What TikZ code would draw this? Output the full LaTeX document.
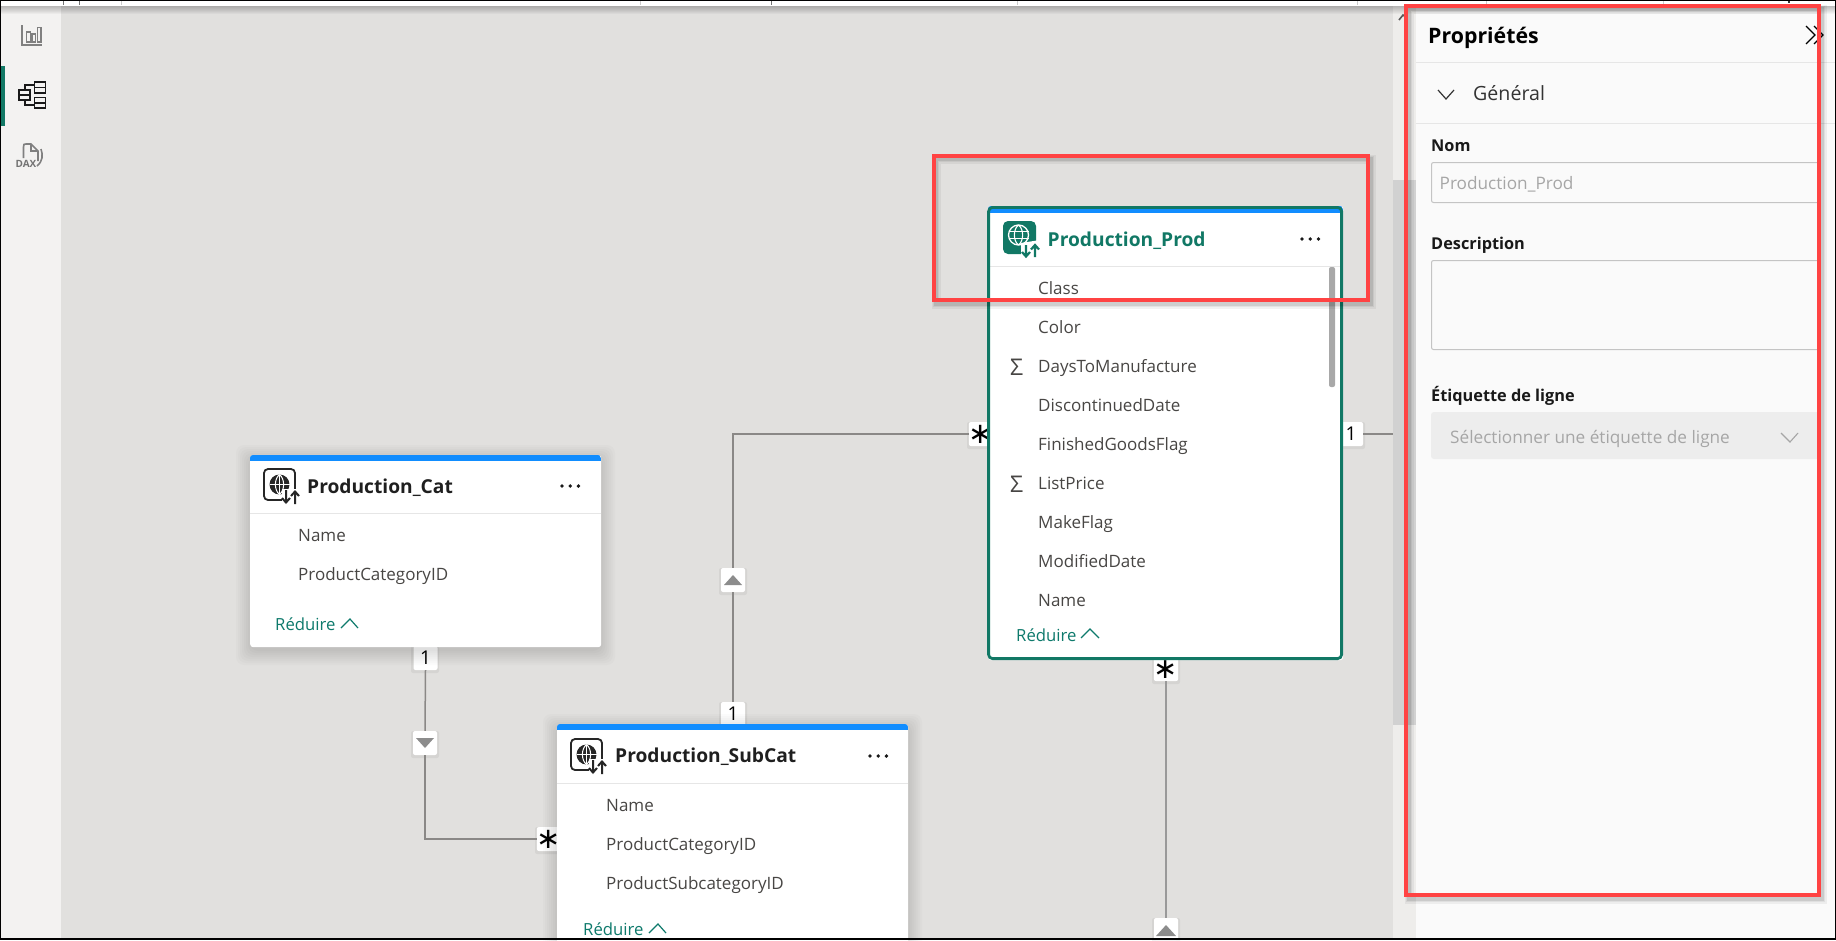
\documentclass[tikz,border=0pt]{standalone}
\usepackage{fontspec}
\setmainfont{Open Sans}
\newfontfamily\djv{DejaVu Sans}
\usetikzlibrary{calc}
\definecolor{canvasbg}{HTML}{E1E0DE}
\definecolor{railbg}{HTML}{F3F2F1}
\definecolor{panelbg}{HTML}{FAFAFA}
\definecolor{teal}{HTML}{117865}
\definecolor{pbiblue}{HTML}{118DFF}
\definecolor{redmark}{HTML}{FF4343}
\definecolor{rowtxt}{HTML}{484644}
\definecolor{linkc}{HTML}{0E7A6C}
\definecolor{conn}{HTML}{8A8886}
\definecolor{sepc}{HTML}{E6E6E6}
\definecolor{fieldc}{HTML}{C4C4C4}
\definecolor{hintc}{HTML}{A6A6A6}
\tikzset{
  x=1pt,y=-1pt,
  tablebox/.style={fill=white,rounded corners=3pt,inner sep=0,anchor=north west},
  rowlabel/.style={anchor=base west,inner sep=0,text=rowtxt,font=\fontsize{17}{20}\selectfont},
  sigmalabel/.style={anchor=base west,inner sep=0,text=rowtxt,font=\fontsize{23}{23}\selectfont},
  titlelabel/.style={anchor=base west,inner sep=0,text=#1,font=\bfseries\fontsize{19.2}{22}\selectfont},
  morelabel/.style={anchor=base west,inner sep=0,text=linkc,font=\fontsize{16.7}{20}\selectfont},
  badge/.style={fill=white,rounded corners=2pt,inner sep=0,minimum width=24pt,minimum height=24pt,text=black},
  onebadge/.style={badge,font=\fontsize{19}{19}\selectfont},
  starbadge/.style={badge,font=\djv\fontsize{29}{29}\selectfont},
  link/.style={draw=conn,line width=1.5pt},
  proplabel/.style={anchor=base west,inner sep=0,text=black!90,font=\bfseries\fontsize{16.3}{20}\selectfont},
  hinttext/.style={anchor=base west,inner sep=0,text=hintc,font=\fontsize{17.2}{20}\selectfont},
  chev/.style={draw=#1,line width=1.2pt,line join=miter},
  fieldbox/.style={draw=fieldc,line width=1pt,rounded corners=2pt},
  redframe/.style={draw=redmark,line width=3.6pt,line join=miter},
  tableshadow/.style={fill=black,opacity=.014,rounded corners=8pt},
  railicon/.style={draw=black!50,line width=1.6pt},
}
\newcommand{\softshadow}[4]{%
  \foreach \d in {14,12,10,8,6,4,2,0}{\fill[tableshadow] (#1-\d,#2-\d+4) rectangle (#3+\d,#4+\d+4);}}
\newcommand{\monoicon}[2]{%
  \begin{scope}[shift={(#1,#2)}]
    \draw[black!85,line width=1.8pt,rounded corners=4pt] (1,1) rectangle (32,32);
    \fill[black!85] (16.5,16.5) circle (10);
    \draw[white,line width=1pt] (6.5,16.5)--(26.5,16.5);
    \draw[white,line width=1pt] (16.5,6.5)--(16.5,26.5);
    \draw[white,line width=1pt] (16.5,6.5) .. controls (11,11) and (11,22) .. (16.5,26.5);
    \draw[white,line width=1pt] (16.5,6.5) .. controls (22,11) and (22,22) .. (16.5,26.5);
    \fill[white] (19,21) rectangle (37,37);
    \draw[black!85,line width=2pt] (23,22)--(23,34) (19,30)--(23,34.5)--(27,30);
    \draw[black!85,line width=2pt] (32,36)--(32,24) (28,28)--(32,23.5)--(36,28);
  \end{scope}}
\newcommand{\tealicon}[2]{%
  \begin{scope}[shift={(#1,#2)}]
    \fill[teal,rounded corners=5pt] (0,0) rectangle (33,33);
    \draw[white,line width=1.3pt] (15.5,14) circle (10);
    \draw[white,line width=1.1pt] (5.5,10.5)--(25.5,10.5) (5.5,17.5)--(25.5,17.5);
    \draw[white,line width=1.1pt] (15.5,4) .. controls (10,8) and (10,20) .. (15.5,24);
    \draw[white,line width=1.1pt] (15.5,4) .. controls (21,8) and (21,20) .. (15.5,24);
    \fill[white] (18,22) -- (37,19) -- (37,37) -- (18,37) -- cycle;
    \draw[teal,line width=2.2pt] (23,24)--(23,35) (19,31)--(23,35.5)--(27,31);
    \draw[teal,line width=2.2pt] (32,36)--(32,24.5) (28,28.5)--(32,24)--(36,28.5);
  \end{scope}}
\newcommand{\threedots}[2]{%
  \foreach \i in {0,1,2}{\fill[black!90] (#1+\i*8.2,#2) circle (1.9);}}
\begin{document}
\begin{tikzpicture}
\useasboundingbox (0,0) rectangle (1836,940);
\fill[white] (0,0) rectangle (1836,940);
% canvas, rail, panel
\fill[canvasbg] (61,6) rectangle (1393,940);
\fill[railbg] (0,6) rectangle (61,940);
\fill[railbg!70!canvasbg] (1393,6) rectangle (1416,940);
\fill[panelbg] (1416,6) rectangle (1836,940);
\fill[black!18] (1393,180) rectangle (1416,725);
% strip ticks and its shadow
\foreach \xx in {63,79,771}{\draw[black!55,line width=.9pt] (\xx,1)--(\xx,5);}
\foreach \xx in {121,640,1017,1357,1486,1663}{\draw[black!20,line width=.8pt] (\xx,1)--(\xx,5);}
\draw[black!80,line width=1.2pt] (1789,1)--(1789,3);
\foreach \k in {1,...,8}{\fill[black,opacity=.032] (1,6) rectangle (1835,6+\k);}
% rail
\fill[teal] (1,66) rectangle (5,126);
\begin{scope}[railicon]
  \draw (22,25)--(22,45)--(42,45);
  \draw (26.5,32) rectangle (30.5,42);
  \draw (32,34) rectangle (35.5,42);
  \draw (37.5,27.5) rectangle (41,42);
\end{scope}
\begin{scope}[draw=black!90,line width=1.5pt]
  \draw (19,90) rectangle (30,100) (19,95)--(30,95);
  \draw (34.5,82) rectangle (45.5,93) (34.5,87.5)--(45.5,87.5);
  \draw (34.5,97.5) rectangle (45.5,108) (34.5,103)--(45.5,103);
  \draw (25,90)--(25,85)--(34.5,85);
  \draw (25,100)--(25,105)--(34.5,105);
\end{scope}
\begin{scope}[railicon]
  \draw (23.5,158)--(23.5,147) .. controls (23.5,144) and (24,144) .. (26,144)--(31,144)--(38,151)--(38,161);
  \draw (31,144)--(31,151)--(38,151);
  \draw (41,149) .. controls (43,155) and (43,161) .. (37,166);
\end{scope}
\node[inner sep=0,text=black!55,font=\bfseries\fontsize{10}{10}\selectfont] (daxlabel) at (26,163.5) {DAX};
% scroll caret
\draw[black!65,line width=1.6pt] (1399,20)--(1403,15)--(1407,18);
% label badges
\foreach \bx/\by in {425/658,733/714,549/839,981/434,1351/434,1166/669,425/743,733/580,1166/930}{
  \fill[black,opacity=.05,rounded corners=2pt] (\bx-14,\by-12) rectangle (\bx+14,\by+15);}
\node[onebadge] (catone) at (425.5,658) {1};
\node[starbadge] (substar) at (549,839) {∗};
\node[onebadge] (subone) at (733,714) {1};
\node[starbadge] (prodstarl) at (981,434) {∗};
\node[onebadge] (prodone) at (1351,434) {1};
\node[starbadge] (prodstarb) at (1166,669) {∗};
\node[badge] (catarrow) at (425,743) {};
\node[badge] (subarrow) at (733,580) {};
\node[badge,minimum height=22pt] (prodarrow) at (1166,929) {};
\coordinate (edgeright) at (1393,434);
% connectors
\draw[link] (catone.south) -- (catarrow.north);
\draw[link] (catarrow.south) |- (substar.west);
\draw[link] (subone.north) -- (subarrow.south);
\draw[link] (subarrow.north) |- (prodstarl.west);
\draw[link] (prodone.east) -- (edgeright);
\draw[link,draw=black!40] (prodstarb.south) -- (prodarrow.north);
% arrow glyphs
\fill[black!45] ($(catarrow.center)+(-9,-5)$) -- ++(18,0) -- ++(-9,10) -- cycle;
\fill[black!45] ($(subarrow.center)+(-9,5)$) -- ++(18,0) -- ++(-9,-10) -- cycle;
\fill[black!45] ($(prodarrow.center)+(-10,7)$) -- ++(20,0) -- ++(-10,-11) -- cycle;
% Production_Cat
\softshadow{250}{455}{601}{647}
\node[tablebox,minimum width=351pt,minimum height=192pt] (cat) at (250,455) {};
\begin{scope}
  \clip[rounded corners=3pt] (250,455) rectangle (601,647);
  \fill[pbiblue] (250,455) rectangle (601,461);
\end{scope}
\draw[sepc,line width=1pt] (250,513)--(601,513);
\monoicon{263}{468}
\node[titlelabel=black!88] (cattitle) at (307,493.5) {Production\_Cat};
\threedots{562}{486}
\node[rowlabel] (catname) at (298,541.7) {Name};
\node[rowlabel] (catid) at (298,580.7) {ProductCategoryID};
\node[morelabel] (catmore) at (275,630) {Réduire};
\draw[chev=linkc] (341,628)--(350,619)--(358,628);
% Production_SubCat
\softshadow{557}{724}{908}{950}
\node[tablebox,minimum width=351pt,minimum height=230pt] (subcat) at (557,724) {};
\begin{scope}
  \clip[rounded corners=3pt] (557,724) rectangle (908,954);
  \fill[pbiblue] (557,724) rectangle (908,730);
\end{scope}
\draw[sepc,line width=1pt] (557,783)--(908,783);
\monoicon{570}{738}
\node[titlelabel=black!88] (subtitle) at (615,762.5) {Production\_SubCat};
\threedots{870}{756}
\node[rowlabel] (subname) at (606,811.7) {Name};
\node[rowlabel] (subcid) at (606,850.7) {ProductCategoryID};
\node[rowlabel] (subsid) at (606,889.7) {ProductSubcategoryID};
\node[morelabel] (submore) at (583,935) {Réduire};
\draw[chev=linkc] (649,933)--(658,924)--(666,933);
% Production_Prod
\node[tablebox,minimum width=355pt,minimum height=454pt] (prod) at (988,206) {};
\begin{scope}
  \clip[rounded corners=3pt] (988,206) rectangle (1343,660);
  \fill[pbiblue] (988,206) rectangle (1343,213);
\end{scope}
\draw[sepc,line width=1pt] (990,266)--(1341,266);
\draw[teal,line width=2.8pt,rounded corners=4pt] (988.6,207.4) rectangle (1341.6,658.6);
\tealicon{1003}{221}
\node[titlelabel=teal] (prodtitle) at (1047.5,246.5) {Production\_Prod};
\threedots{1302}{239}
\node[rowlabel] (p1) at (1038,294.7) {Class};
\node[rowlabel] (p2) at (1038,333.7) {Color};
\node[sigmalabel] (ps1) at (1010,375.7) {Σ};
\node[rowlabel] (p3) at (1038,372.7) {DaysToManufacture};
\node[rowlabel] (p4) at (1038,411.7) {DiscontinuedDate};
\node[rowlabel] (p5) at (1038,450.7) {FinishedGoodsFlag};
\node[sigmalabel] (ps2) at (1010,492.7) {Σ};
\node[rowlabel] (p6) at (1038,489.7) {ListPrice};
\node[rowlabel] (p7) at (1038,528.7) {MakeFlag};
\node[rowlabel] (p8) at (1038,567.7) {ModifiedDate};
\node[rowlabel] (p9) at (1038,606.7) {Name};
\node[morelabel] (prodmore) at (1016,641) {Réduire};
\draw[chev=linkc] (1081,638)--(1090,629)--(1099,638);
\fill[black!34,rounded corners=2pt] (1329,267) rectangle (1335,387);
% properties panel
\node[anchor=base west,inner sep=0,text=black,font=\bfseries\fontsize{21.3}{25}\selectfont] (ptitle) at (1428,43) {Propriétés};
\draw[black,line width=1.3pt] (1806,26)--(1815,35)--(1806,44);
\draw[black,line width=1.3pt] (1814,26)--(1823,35)--(1814,44);
\draw[sepc,line width=1pt] (1416,62)--(1836,62);
\draw[black!80,line width=1.2pt] (1438,90)--(1446,99)--(1454,90);
\node[anchor=base west,inner sep=0,text=black!80,font=\fontsize{19.6}{23}\selectfont] (pgen) at (1473,100) {Général};
\draw[sepc,line width=1pt] (1416,123)--(1836,123);
\node[proplabel] (pnom) at (1431,151) {Nom};
\draw[fieldbox] (1431.5,162.5) rectangle (1830,202.5);
\node[hinttext] (pval) at (1439.5,189) {Production\_Prod};
\node[proplabel] (pdesc) at (1431,249) {Description};
\draw[fieldbox] (1431.5,260.5) rectangle (1830,349.5);
\node[proplabel] (pet) at (1431,401) {Étiquette de ligne};
\fill[black!7,rounded corners=3pt] (1431,412) rectangle (1830,459);
\node[hinttext] (psel) at (1450,443.3) {Sélectionner une étiquette de ligne};
\draw[hintc,line width=1.1pt] (1781,433)--(1790,442)--(1798,433);
\fill[panelbg] (1821,100) rectangle (1836,480);
\draw[sepc,line width=1pt] (1416,123)--(1836,123);
% red frames with shadow
\foreach \w/\o in {9/.05,6.5/.06,4.5/.09}{
  \draw[black,opacity=\o,line width=\w pt] (936,159) rectangle (1371,304);
  \draw[black,opacity=\o,line width=\w pt] (1409,9) rectangle (1822,899);
}
\draw[redframe] (934,156) rectangle (1368,300);
\draw[redframe] (1406,6) rectangle (1819,895);
% outer frame
\draw[black,line width=2pt] (0,0) rectangle (1836,939);
\draw[black,line width=2pt] (1835.5,0)--(1835.5,940);
\end{tikzpicture}
\end{document}
